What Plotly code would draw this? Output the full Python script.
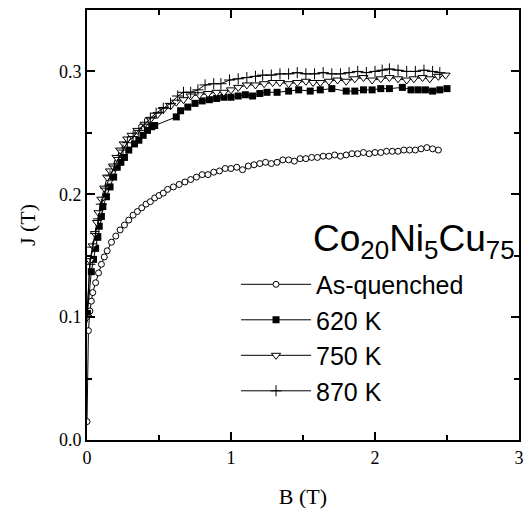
import plotly.graph_objects as go

# ---------------- data ----------------
b_aq = [0.0, 0.01, 0.02, 0.03, 0.04, 0.06, 0.08, 0.1, 0.12, 0.14, 0.17, 0.2, 0.23, 0.26, 0.29, 0.32,
        0.35, 0.38, 0.41, 0.44, 0.47, 0.50, 0.53, 0.56, 0.60, 0.64, 0.68, 0.72, 0.76, 0.80, 0.84, 0.88,
        0.92, 0.96, 1.00, 1.04, 1.08, 1.12, 1.16, 1.20, 1.24, 1.28, 1.32, 1.36, 1.40, 1.44, 1.48, 1.52,
        1.56, 1.60, 1.64, 1.68, 1.72, 1.76, 1.80, 1.84, 1.88, 1.92, 1.96, 2.00, 2.04, 2.08, 2.12, 2.16,
        2.20, 2.24, 2.28, 2.32, 2.36, 2.40, 2.44]
j_aq = [0.015, 0.089, 0.105, 0.113, 0.120, 0.128, 0.136, 0.143, 0.149, 0.154, 0.161, 0.166, 0.171, 0.175,
        0.179, 0.183, 0.186, 0.189, 0.192, 0.194, 0.197, 0.199, 0.201, 0.204, 0.206, 0.208, 0.210, 0.212,
        0.214, 0.216, 0.216, 0.218, 0.219, 0.221, 0.221, 0.222, 0.220, 0.223, 0.224, 0.225, 0.226, 0.225,
        0.226, 0.228, 0.228, 0.227, 0.229, 0.229, 0.230, 0.230, 0.231, 0.231, 0.232, 0.231, 0.232, 0.233,
        0.233, 0.234, 0.233, 0.234, 0.234, 0.235, 0.235, 0.235, 0.236, 0.236, 0.236, 0.237, 0.238, 0.237,
        0.236]

b_620 = [0.003, 0.03, 0.045, 0.06, 0.075, 0.085, 0.10, 0.11, 0.135, 0.16, 0.185, 0.21, 0.235, 0.26, 0.29,
         0.33, 0.36, 0.39, 0.42, 0.45, 0.47, 0.62, 0.65, 0.70, 0.75, 0.80, 0.85, 0.90, 0.95, 1.00, 1.05,
         1.10, 1.15, 1.20, 1.25, 1.32, 1.40, 1.47, 1.55, 1.62, 1.70, 1.80, 1.86, 1.92, 1.98, 2.04, 2.10,
         2.19, 2.25, 2.30, 2.35, 2.40, 2.45, 2.50]
j_620 = [0.103, 0.137, 0.147, 0.156, 0.165, 0.174, 0.182, 0.190, 0.198, 0.206, 0.214, 0.222, 0.226, 0.230,
         0.236, 0.241, 0.244, 0.248, 0.252, 0.255, 0.256, 0.263, 0.268, 0.271, 0.274, 0.276, 0.277, 0.278,
         0.279, 0.279, 0.280, 0.281, 0.280, 0.282, 0.283, 0.283, 0.284, 0.285, 0.284, 0.285, 0.286, 0.284,
         0.284, 0.285, 0.285, 0.286, 0.286, 0.287, 0.285, 0.285, 0.285, 0.284, 0.285, 0.286]

b_750 = [0.0, 0.02, 0.04, 0.055, 0.07, 0.08, 0.10, 0.12, 0.14, 0.16, 0.18, 0.205, 0.23, 0.255, 0.28, 0.31,
         0.35, 0.40, 0.44, 0.49, 0.53, 0.58, 0.62, 0.67, 0.72, 0.78, 0.84, 0.90, 0.95, 1.00, 1.05, 1.11,
         1.17, 1.23, 1.29, 1.34, 1.40, 1.46, 1.52, 1.57, 1.62, 1.68, 1.74, 1.80, 1.86, 1.92, 1.98, 2.04,
         2.10, 2.16, 2.22, 2.27, 2.33, 2.38, 2.44, 2.49]
j_750 = [0.100, 0.146, 0.158, 0.168, 0.177, 0.185, 0.196, 0.205, 0.214, 0.219, 0.223, 0.230, 0.236, 0.241,
         0.245, 0.248, 0.252, 0.257, 0.261, 0.265, 0.269, 0.272, 0.275, 0.277, 0.280, 0.281, 0.282, 0.283,
         0.283, 0.285, 0.287, 0.289, 0.289, 0.290, 0.291, 0.291, 0.290, 0.291, 0.292, 0.291, 0.291, 0.292,
         0.293, 0.292, 0.294, 0.295, 0.293, 0.294, 0.295, 0.294, 0.293, 0.294, 0.295, 0.294, 0.296, 0.297]

b_870 = [0.0, 0.02, 0.04, 0.06, 0.08, 0.10, 0.13, 0.16, 0.19, 0.22, 0.25, 0.28, 0.32, 0.36, 0.40, 0.44,
         0.48, 0.53, 0.58, 0.63, 0.67, 0.72, 0.77, 0.82, 0.88, 0.93, 0.99, 1.05, 1.11, 1.17, 1.22, 1.28,
         1.34, 1.40, 1.46, 1.52, 1.58, 1.64, 1.70, 1.76, 1.82, 1.88, 1.94, 2.00, 2.05, 2.10, 2.16, 2.22,
         2.28, 2.34, 2.40, 2.45]
j_870 = [0.100, 0.143, 0.157, 0.168, 0.180, 0.192, 0.205, 0.215, 0.223, 0.230, 0.236, 0.242, 0.247, 0.252,
         0.257, 0.262, 0.266, 0.270, 0.274, 0.280, 0.283, 0.283, 0.285, 0.289, 0.290, 0.290, 0.293, 0.294,
         0.295, 0.296, 0.297, 0.297, 0.298, 0.298, 0.299, 0.298, 0.298, 0.299, 0.298, 0.298, 0.299, 0.300,
         0.299, 0.300, 0.301, 0.302, 0.301, 0.300, 0.300, 0.301, 0.300, 0.299]

series_names = ["As-quenched", "620 K", "750 K", "870 K"]
x_ticks = [0, 1, 2, 3]
y_ticks = [0.0, 0.1, 0.2, 0.3]
y_tick_text = ["0.0", "0.1", "0.2", "0.3"]

serif = "Liberation Serif, Times New Roman, serif"
sans = "Liberation Sans, Arial, sans-serif"

fig = go.Figure()
fig.add_trace(go.Scatter(x=b_aq, y=j_aq, name=series_names[0], mode="lines+markers",
                         line=dict(color="black", width=1),
                         marker=dict(symbol="circle", size=6, color="white",
                                     line=dict(color="black", width=1))))
fig.add_trace(go.Scatter(x=b_620, y=j_620, name=series_names[1], mode="lines+markers",
                         line=dict(color="black", width=1),
                         marker=dict(symbol="square", size=7, color="black",
                                     line=dict(color="black", width=0))))
fig.add_trace(go.Scatter(x=b_750, y=j_750, name=series_names[2], mode="lines+markers",
                         line=dict(color="black", width=1),
                         marker=dict(symbol="triangle-down", size=8, color="white",
                                     line=dict(color="black", width=1))))
fig.add_trace(go.Scatter(x=b_870, y=j_870, name=series_names[3], mode="lines+markers",
                         line=dict(color="black", width=1),
                         marker=dict(symbol="cross-thin", size=8, color="black",
                                     line=dict(color="black", width=1))))

axis_common = dict(showline=True, linecolor="black", linewidth=2, mirror="allticks",
                   ticks="inside", ticklen=8, tickwidth=1.5, tickcolor="black",
                   showgrid=False, zeroline=False, automargin=False,
                   tickfont=dict(family=serif, size=18, color="black"))

fig.update_xaxes(range=[0, 3], tickvals=x_ticks, ticklabeloverflow="allow",
                 minor=dict(ticks="inside", ticklen=5, tickwidth=1.5, tickcolor="black", dtick=0.5),
                 title=dict(text="B (T)", font=dict(family=serif, size=22, color="black"), standoff=22),
                 **axis_common)
fig.update_yaxes(range=[0, 0.35], tickvals=y_ticks, ticktext=y_tick_text,
                 minor=dict(ticks="inside", ticklen=5, tickwidth=1.5, tickcolor="black", dtick=0.05),
                 title=dict(text="J (T)", font=dict(family=serif, size=22, color="black"), standoff=17),
                 **axis_common)

fig.add_annotation(xref="paper", yref="paper", x=0.995, y=0.405, xanchor="right", yanchor="bottom",
                   text="Co<sub>20</sub>Ni<sub>5</sub>Cu<sub>75</sub>", showarrow=False,
                   font=dict(family=sans, size=37, color="black"))

fig.update_layout(
    width=523, height=515,
    margin=dict(l=87, r=4, t=10, b=75),
    paper_bgcolor="white", plot_bgcolor="white",
    showlegend=True,
    legend=dict(x=0.345, y=0.415, xanchor="left", yanchor="top",
                bgcolor="rgba(0,0,0,0)", borderwidth=0,
                font=dict(family=sans, size=25, color="black"),
                itemwidth=70, tracegroupgap=0),
)

fig.write_html("out.html")
